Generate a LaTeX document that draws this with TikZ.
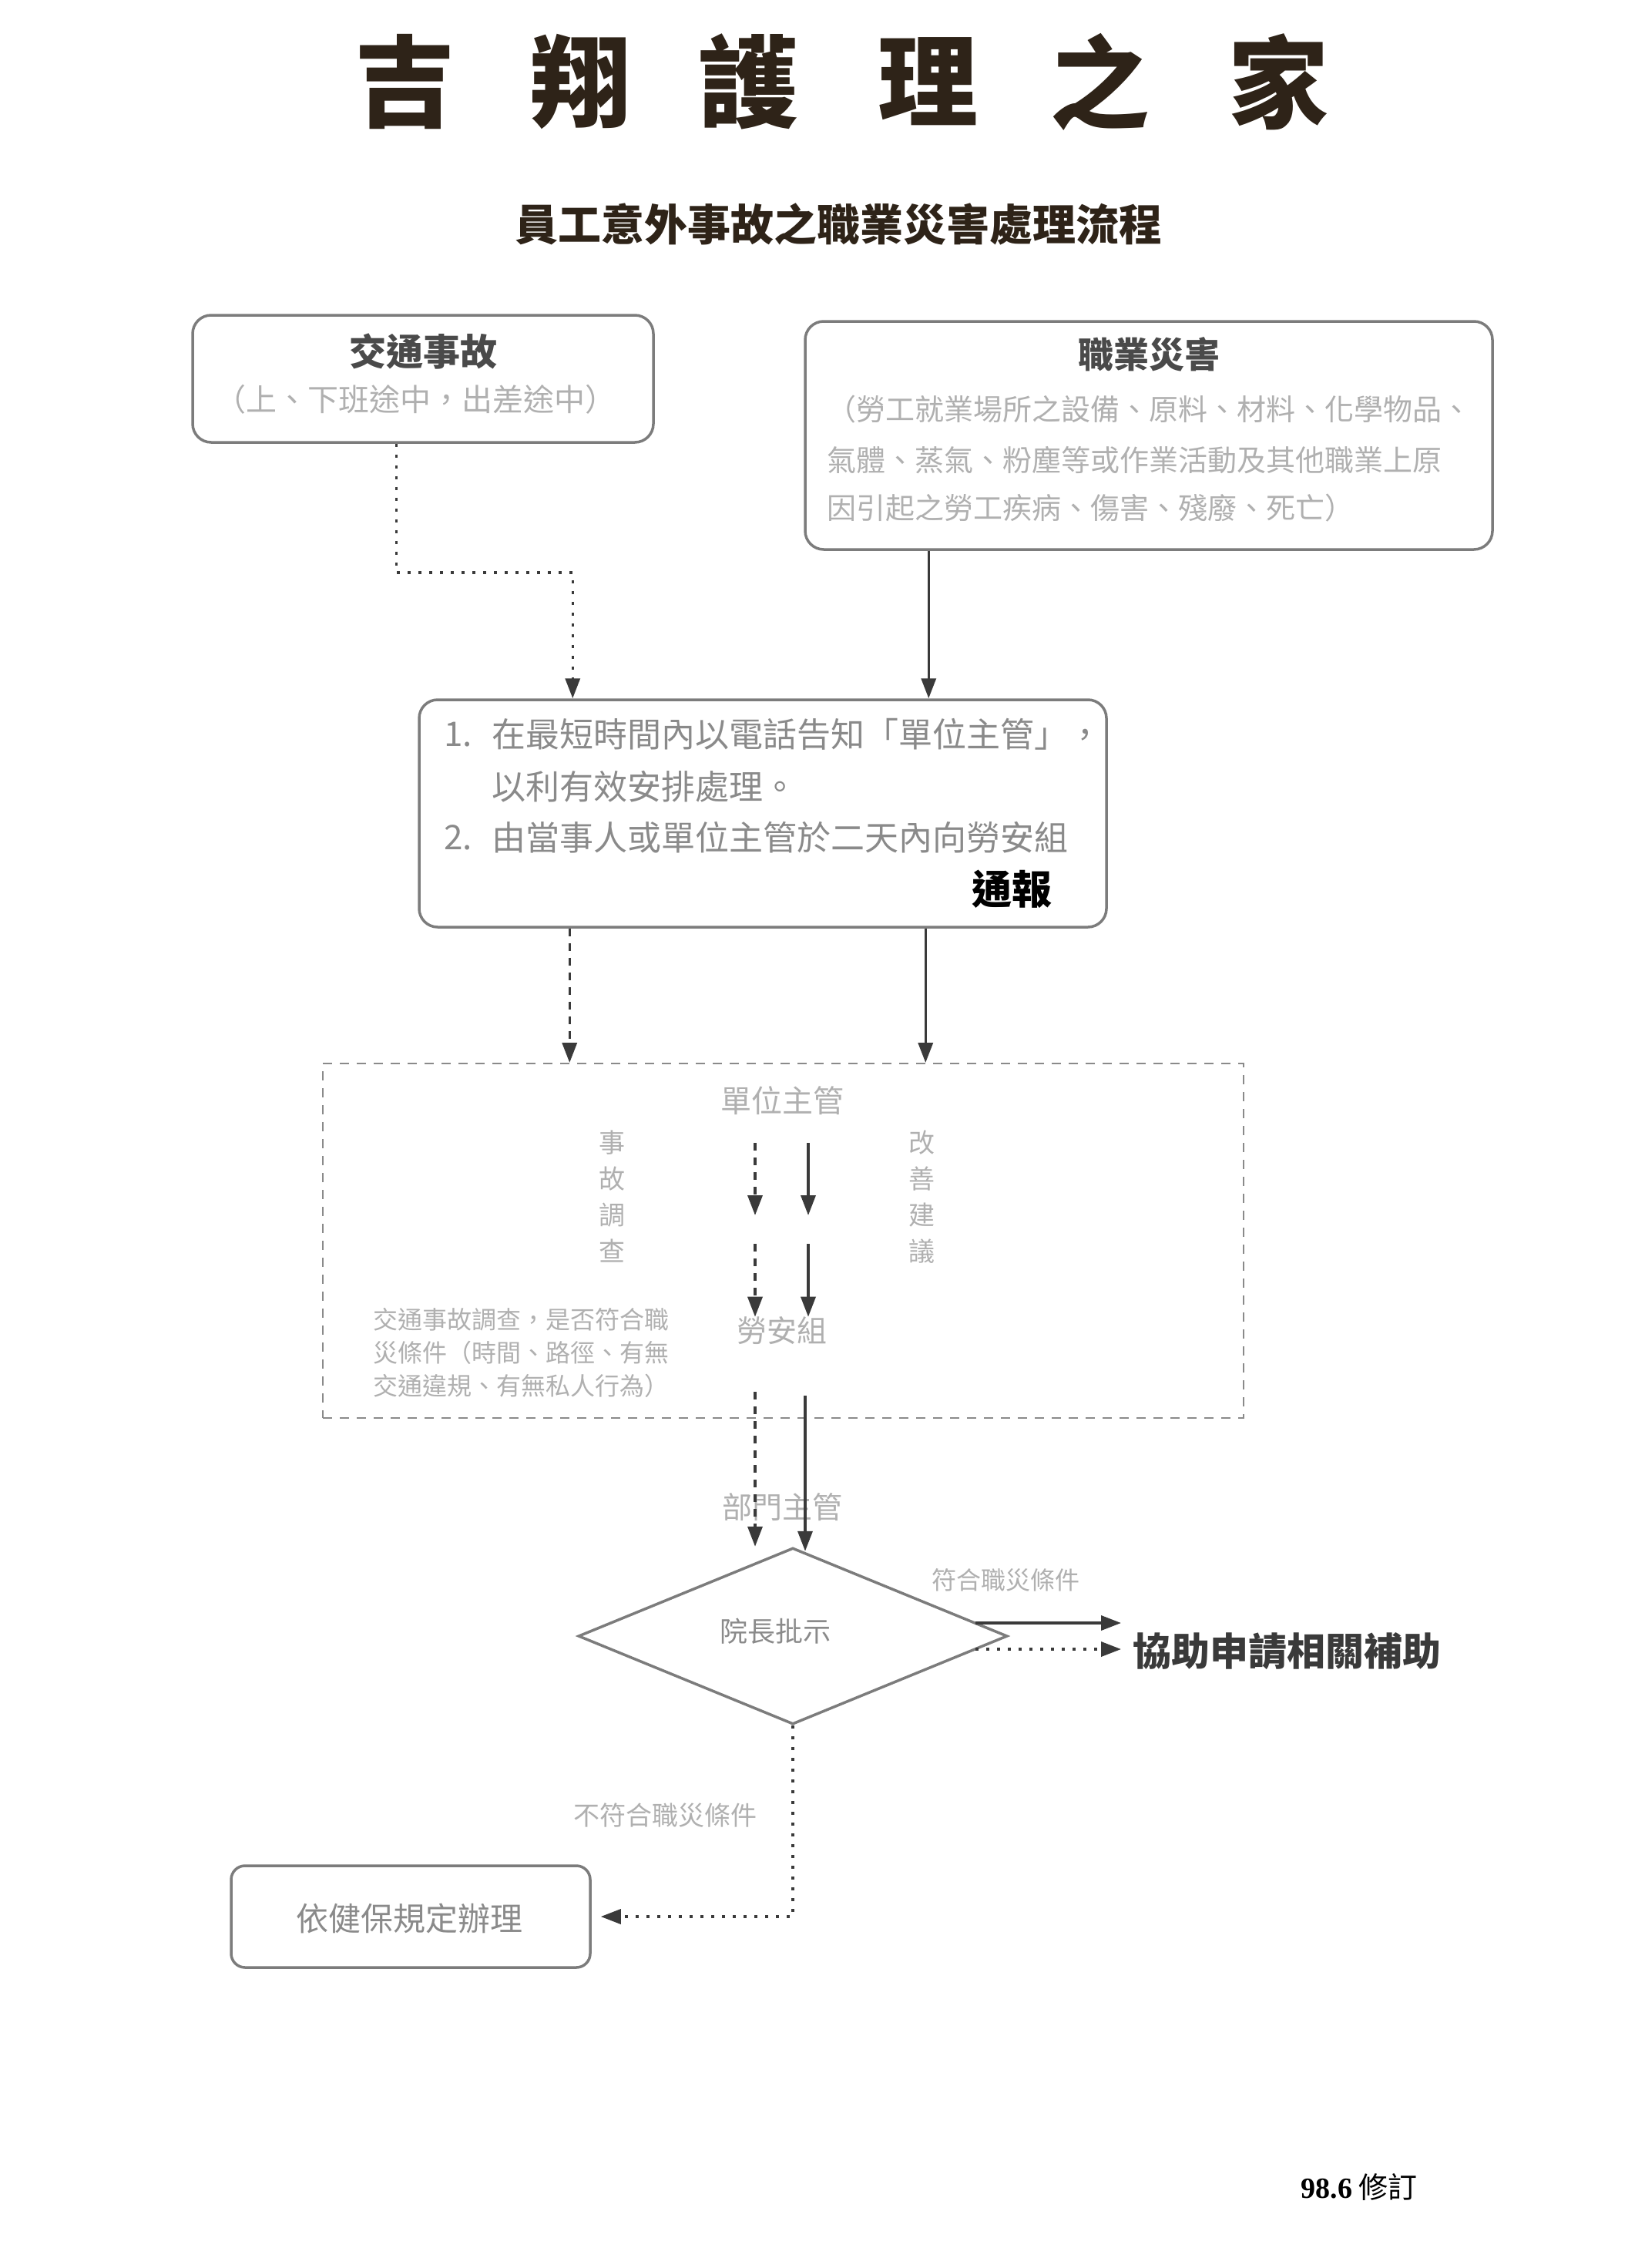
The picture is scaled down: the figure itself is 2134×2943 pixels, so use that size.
\documentclass[tikz,border=0pt]{standalone}
\usepackage{fontspec}
\setmainfont{Noto Sans CJK TC}
\newfontfamily\serifd{Liberation Serif}
\usetikzlibrary{arrows.meta,shapes.geometric}
\definecolor{titlec}{HTML}{2E2318}
\definecolor{boxc}{HTML}{7C7C7C}
\definecolor{headc}{HTML}{4A4A4A}
\definecolor{bodyc}{HTML}{8A8A8A}
\definecolor{lightc}{HTML}{B0B0B0}
\definecolor{arrowc}{HTML}{3A3A3A}
\newcommand{\myfs}[1]{\fontsize{#1pt}{#1pt}\selectfont}
\newcommand{\myfsl}[2]{\fontsize{#1pt}{#2pt}\selectfont}
\begin{document}
\begin{tikzpicture}[x=1pt,y=-1pt,
  box/.style={draw=boxc, line width=3.5pt, rounded corners=24pt, inner sep=0pt},
  txt/.style={inner sep=0pt, text=bodyc},
  ttl/.style={inner sep=0pt, text=titlec, font=\myfs{130}\bfseries},
  sarrow/.style={draw=arrowc, line width=3.5pt, -{Triangle[length=26pt,width=19pt]}},
  darrow/.style={sarrow, dash pattern=on 10pt off 9pt},
  parrow/.style={sarrow, dash pattern=on 4pt off 10pt}
]
\fill[white] (0,0) rectangle (2134,2943);
\useasboundingbox (0,0) rectangle (2134,2943);

% title
\node[ttl] (t1) at (525,106) {吉};
\node[ttl] (t2) at (753,106) {翔};
\node[ttl] (t3) at (971,106) {護};
\node[ttl] (t4) at (1204,106) {理};
\node[ttl] (t5) at (1427,106) {之};
\node[ttl] (t6) at (1659,106) {家};
\node[inner sep=0pt, text=titlec, font=\myfs{56}\bfseries] (sub) at (1088,291) {員工意外事故之職業災害處理流程};

% left box
\node[box, minimum width=598pt, minimum height=165pt] (lbox) at (549,491.5) {};
\node[txt, text=headc, font=\myfs{48}\bfseries] (ltitle) at (549,456) {交通事故};
\node[txt, text=lightc, font=\myfs{40}] (lsub) at (539,518) {（上、下班途中，出差途中）};

% right box
\node[box, minimum width=892pt, minimum height=296pt] (rbox) at (1491,565) {};
\node[txt, text=headc, font=\myfs{46}\bfseries] (rtitle) at (1491,460) {職業災害};
\node[txt, text=lightc, font=\myfs{38}, anchor=west] (r1) at (1073,531) {（勞工就業場所之設備、原料、材料、化學物品、};
\node[txt, text=lightc, font=\myfs{38}, anchor=west] (r2) at (1073,597) {氣體、蒸氣、粉塵等或作業活動及其他職業上原};
\node[txt, text=lightc, font=\myfs{38}, anchor=west] (r3) at (1073,659) {因引起之勞工疾病、傷害、殘廢、死亡）};

% middle box
\node[box, minimum width=892pt, minimum height=295pt] (mbox) at (990,1055.5) {};
\node[txt, font=\myfs{44}, anchor=west] (m1n) at (576,953) {1.};
\node[txt, font=\myfs{44}, anchor=west] (m1) at (638,953) {在最短時間內以電話告知「單位主管」，};
\node[txt, font=\myfs{44}, anchor=west] (m2) at (638,1021) {以利有效安排處理。};
\node[txt, font=\myfs{44}, anchor=west] (m3n) at (576,1087) {2.};
\node[txt, font=\myfs{44}, anchor=west] (m3) at (638,1087) {由當事人或單位主管於二天內向勞安組};
\node[txt, text=black, font=\myfs{52}\bfseries, anchor=east] (mrep) at (1366,1154) {通報};

% connectors top
\coordinate (la) at ([xshift=266pt]lbox.south west);
\coordinate (ma) at ([xshift=201pt]mbox.north west);
\draw[parrow] (la) -- ++(0,167) -| (ma);
\coordinate (rb) at ([xshift=162pt]rbox.south west);
\draw[sarrow] (rb) -- (rb |- mbox.north);

% dashed region
\node[draw=bodyc, line width=2pt, dash pattern=on 12pt off 10pt, minimum width=1195pt, minimum height=460pt, inner sep=0pt] (reg) at (1016.5,1610) {};
\coordinate (mc) at ([xshift=197pt]mbox.south west);
\draw[darrow] (mc) -- (mc |- reg.north);
\coordinate (md) at ([xshift=659pt]mbox.south west);
\draw[sarrow] (md) -- (md |- reg.north);

\node[txt, text=lightc, font=\myfs{40}] (unit) at (1015,1428) {單位主管};
\node[txt, text=lightc, font=\myfsl{34}{47}, align=center] (incid) at (794,1553) {事\\故\\調\\查};
\node[txt, text=lightc, font=\myfsl{34}{47}, align=center] (impr) at (1196,1553) {改\\善\\建\\議};
\node[txt, text=lightc, font=\myfs{39}] (labor) at (1015,1727) {勞安組};
\node[txt, text=lightc, font=\myfs{32}, anchor=west] (p1) at (484,1712) {交通事故調查，是否符合職};
\node[txt, text=lightc, font=\myfs{32}, anchor=west] (p2) at (484,1755) {災條件（時間、路徑、有無};
\node[txt, text=lightc, font=\myfs{32}, anchor=west] (p3) at (484,1798) {交通違規、有無私人行為）};

\coordinate (da1) at (980,1483);
\coordinate (da2) at (980,1577);
\coordinate (da3) at (980,1614);
\coordinate (sa1) at (1049,1483);
\coordinate (sa2) at (1049,1577);
\coordinate (sa3) at (1049,1614);
\draw[darrow] (da1) -- (da2);
\draw[darrow] (da3) -- (da3 |- labor.north);
\draw[sarrow] (sa1) -- (sa2);
\draw[sarrow] (sa3) -- (sa3 |- labor.north);

% diamond
\node[txt, text=lightc, font=\myfs{39}] (dept) at (1015,1956) {部門主管};
\node[diamond, draw=boxc, line width=3.5pt, minimum width=557pt, minimum height=229pt, inner sep=0pt] (dia) at (1029,2123) {};
\node[txt, text=bodyc, font=\myfs{36}] (diat) at (1006,2117) {院長批示};
\coordinate (db1) at (980,1806);
\coordinate (sb1) at (1045,1811);
\draw[darrow] (db1) -- (db1 |- dia.north);
\draw[sarrow] (sb1) -- ([yshift=-6pt]sb1 |- dia.north);

% right branch
\node[txt, text=lightc, font=\myfs{32}] (cond) at (1305,2050) {符合職災條件};
\node[anchor=west, inner xsep=15pt, inner ysep=0pt, text=arrowc, font=\myfs{50}\bfseries] (assist) at (1455,2143) {協助申請相關補助};
\coordinate (e1) at (1266,2106);
\coordinate (e2) at (1266,2140);
\draw[sarrow] (e1) -- (e1 -| assist.west);
\draw[parrow] (e2) -- (e2 -| assist.west);

% bottom branch
\node[txt, text=lightc, font=\myfs{34}] (ncond) at (863,2356) {不符合職災條件};
\node[box, rounded corners=18pt, minimum width=466pt, minimum height=132pt] (bbox) at (533,2487) {};
\node[txt, text=bodyc, font=\myfs{42}] (btext) at (531,2489) {依健保規定辦理};
\draw[parrow, shorten >=12pt] (dia.south) |- (bbox.east);

% revision
\node[inner sep=0pt, text=black, font=\myfs{38}] (rev) at (1764,2838) {{\serifd\bfseries 98.6} 修訂};
\end{tikzpicture}
\end{document}
